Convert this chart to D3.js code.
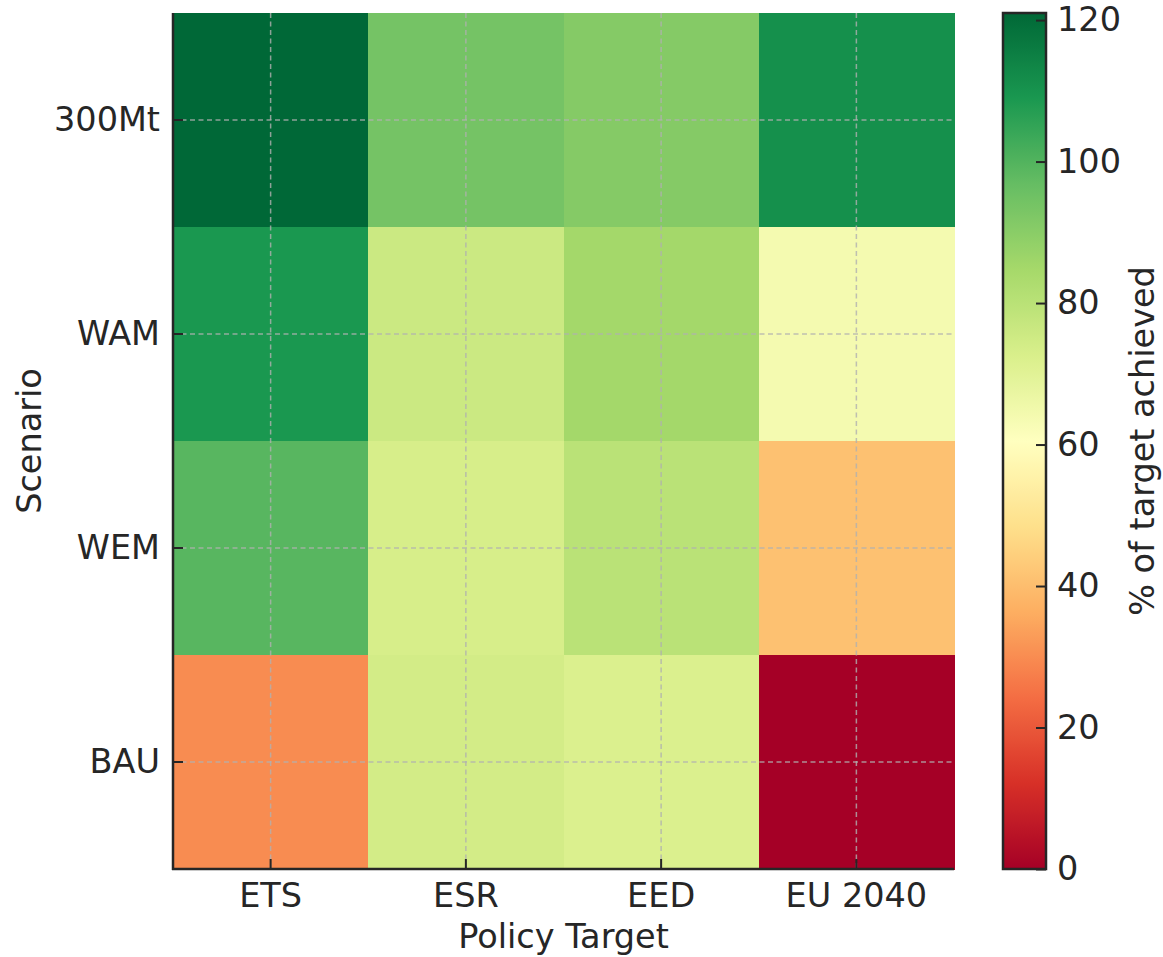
<!DOCTYPE html>
<html>
<head>
<meta charset="utf-8">
<script src="https://cdn.jsdelivr.net/npm/d3@7"></script>
<style>
  html, body { margin: 0; padding: 0; background: #ffffff; }
  svg { display: block; font-family: "DejaVu Sans", sans-serif; }
</style>
</head>
<body>
<svg id="chart" width="1163" height="957"></svg>
<script>
// Policy targets (columns) and scenarios (rows, top to bottom)
const policyTargets = ["ETS", "ESR", "EED", "EU 2040"];
const scenarios = ["300Mt", "WAM", "WEM", "BAU"];

// % of target achieved, one array per scenario, in policyTargets order
const values300Mt = [121, 94, 91, 111];
const valuesWAM   = [109, 76, 85, 64];
const valuesWEM   = [99, 73, 80, 41];
const valuesBAU   = [30, 74, 72, 0];

const colorbarTicks = [0, 20, 40, 60, 80, 100, 120];

(function () {
  const rows = [values300Mt, valuesWAM, valuesWEM, valuesBAU];
  const cells = [];
  rows.forEach((vals, r) => vals.forEach((v, c) => cells.push({ scenario: scenarios[r], target: policyTargets[c], value: v })));

  // colour range spans the data extent
  const [colorMin, colorMax] = d3.extent(cells, d => d.value);

  const svg = d3.select("#chart");
  const textColor = "#262626";
  const fontSize = 33.5;

  // plot frame
  const pLeft = 173, pRight = 954, pTop = 13, pBottom = 869;

  // RdYlGn as a piecewise-linear map over its 11 anchor colours
  const anchors = d3.schemeRdYlGn[11];
  const color = d3.scaleLinear()
    .domain(d3.range(11).map(i => colorMin + (colorMax - colorMin) * i / 10))
    .range(anchors)
    .interpolate(d3.interpolateRgb)
    .clamp(true);

  const x = d3.scaleBand().domain(policyTargets).range([pLeft, pRight]).padding(0);
  const y = d3.scaleBand().domain(scenarios).range([pTop, pBottom]).padding(0);

  // heatmap cells
  svg.append("g").selectAll("rect").data(cells).join("rect")
    .attr("x", d => x(d.target))
    .attr("y", d => y(d.scenario))
    .attr("width", x.bandwidth() + 0.5)
    .attr("height", y.bandwidth() + 0.5)
    .attr("fill", d => color(d.value))
    .attr("shape-rendering", "crispEdges");

  // dashed grid through the tick positions
  const grid = svg.append("g")
    .attr("stroke", "#b0b0b0")
    .attr("stroke-opacity", 0.8)
    .attr("stroke-width", 1.5)
    .attr("stroke-dasharray", "5,3.5");
  policyTargets.forEach(t => {
    const cx = x(t) + x.bandwidth() / 2;
    grid.append("line").attr("x1", cx).attr("x2", cx).attr("y1", pTop).attr("y2", pBottom);
  });
  scenarios.forEach(s => {
    const cy = y(s) + y.bandwidth() / 2;
    grid.append("line").attr("x1", pLeft).attr("x2", pRight).attr("y1", cy).attr("y2", cy);
  });

  // axes with inward ticks
  const xAxis = d3.axisBottom(x).tickSize(-10).tickPadding(13);
  const yAxis = d3.axisLeft(y).tickSize(-10).tickPadding(13);

  const gx = svg.append("g").attr("transform", `translate(0,${pBottom})`).call(xAxis);
  const gy = svg.append("g").attr("transform", `translate(${pLeft},0)`).call(yAxis);

  [gx, gy].forEach(g => {
    g.select(".domain").remove();
    g.selectAll(".tick line").attr("stroke", textColor).attr("stroke-width", 2);
    g.selectAll(".tick text")
      .attr("fill", textColor)
      .attr("font-size", fontSize)
      .attr("font-family", "DejaVu Sans, sans-serif");
  });
  gx.selectAll(".tick text").attr("dy", "0.74em");

  // left and bottom spines
  svg.append("line").attr("x1", pLeft).attr("x2", pLeft).attr("y1", pTop).attr("y2", pBottom + 1)
    .attr("stroke", textColor).attr("stroke-width", 2.5);
  svg.append("line").attr("x1", pLeft - 1).attr("x2", pRight).attr("y1", pBottom).attr("y2", pBottom)
    .attr("stroke", textColor).attr("stroke-width", 2.5);

  // axis titles
  svg.append("text")
    .attr("x", (pLeft + pRight) / 2).attr("y", 948)
    .attr("text-anchor", "middle")
    .attr("fill", textColor).attr("font-size", fontSize)
    .text("Policy Target");

  svg.append("text")
    .attr("transform", `translate(41,${(pTop + pBottom) / 2}) rotate(-90)`)
    .attr("text-anchor", "middle")
    .attr("fill", textColor).attr("font-size", fontSize)
    .text("Scenario");

  // colour bar
  const cbLeft = 1003, cbRight = 1046;
  const cbScale = d3.scaleLinear().domain([colorMin, colorMax]).range([pBottom, pTop]);

  const defs = svg.append("defs");
  const grad = defs.append("linearGradient")
    .attr("id", "cbGrad")
    .attr("x1", "0").attr("y1", "1").attr("x2", "0").attr("y2", "0");
  d3.range(0, 101).forEach(i => {
    const v = colorMin + (colorMax - colorMin) * i / 100;
    grad.append("stop").attr("offset", `${i}%`).attr("stop-color", color(v));
  });

  svg.append("rect")
    .attr("x", cbLeft).attr("y", pTop)
    .attr("width", cbRight - cbLeft).attr("height", pBottom - pTop)
    .attr("fill", "url(#cbGrad)");

  const cbAxis = d3.axisRight(cbScale).tickValues(colorbarTicks).tickSize(-10).tickPadding(11);
  const gcb = svg.append("g").attr("transform", `translate(${cbRight},0)`).call(cbAxis);
  gcb.select(".domain").remove();
  gcb.selectAll(".tick line").attr("stroke", textColor).attr("stroke-width", 2);
  gcb.selectAll(".tick text")
    .attr("fill", textColor)
    .attr("font-size", fontSize)
    .attr("font-family", "DejaVu Sans, sans-serif");

  svg.append("rect")
    .attr("x", cbLeft).attr("y", pTop)
    .attr("width", cbRight - cbLeft).attr("height", pBottom - pTop)
    .attr("fill", "none")
    .attr("stroke", textColor).attr("stroke-width", 2.5);

  svg.append("text")
    .attr("transform", `translate(1154,${(pTop + pBottom) / 2}) rotate(-90)`)
    .attr("text-anchor", "middle")
    .attr("fill", textColor).attr("font-size", fontSize)
    .text("% of target achieved");
})();
</script>
</body>
</html>
